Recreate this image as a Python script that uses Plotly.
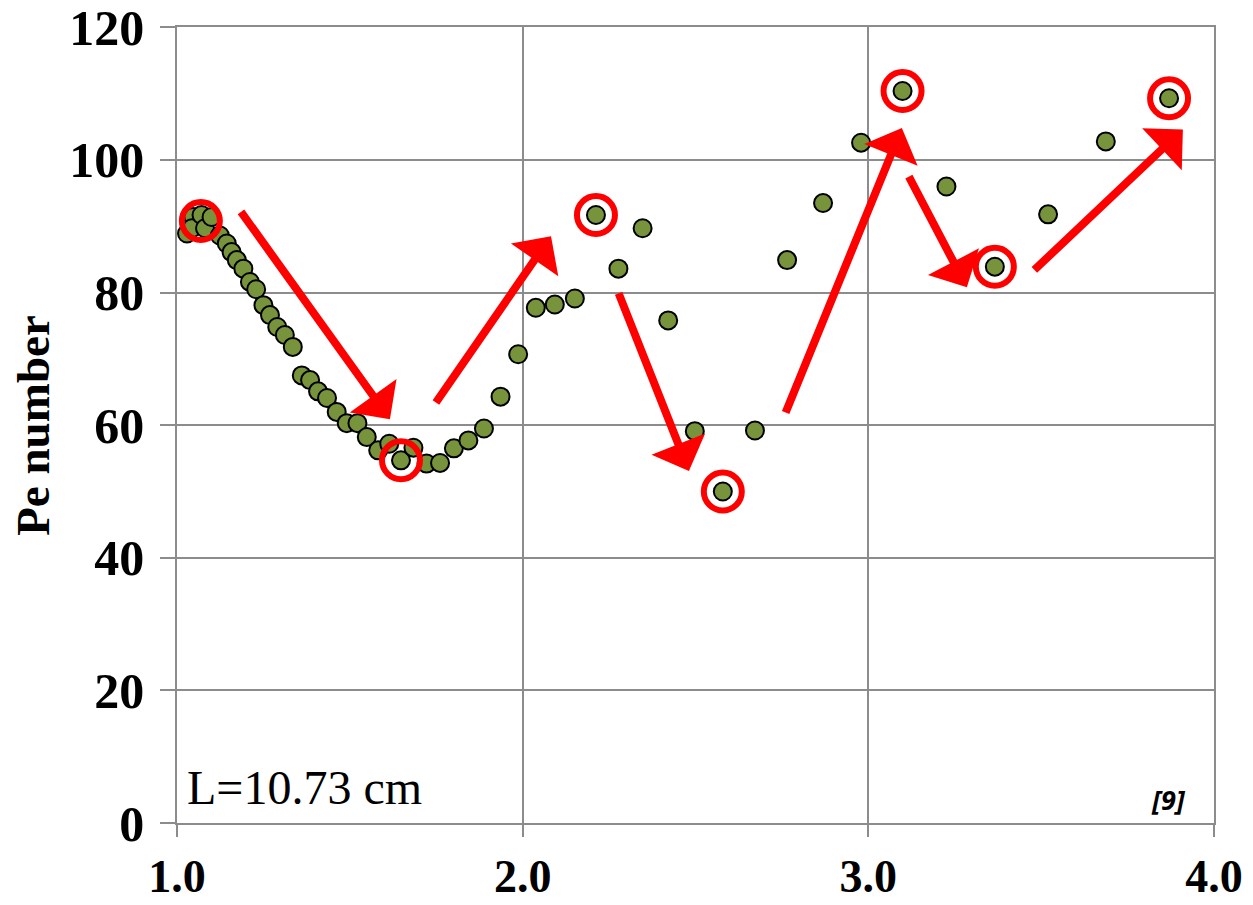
import plotly.graph_objects as go

# Measured Peclet number against the dimensionless abscissa
x_vals = [1.029, 1.047, 1.043, 1.071, 1.081, 1.100, 1.124, 1.144, 1.158, 1.173,
          1.192, 1.211, 1.229, 1.250, 1.269, 1.290, 1.312, 1.335, 1.361, 1.385,
          1.408, 1.434, 1.462, 1.491, 1.522, 1.549, 1.582, 1.614, 1.648, 1.684,
          1.722, 1.761, 1.801, 1.843, 1.888, 1.936, 1.987, 2.038, 2.093, 2.151,
          2.212, 2.277, 2.347, 2.421, 2.498, 2.579, 2.672, 2.765, 2.869, 2.979,
          3.099, 3.226, 3.366, 3.520, 3.687, 3.870]
pe_vals = [88.9, 91.4, 89.7, 91.7, 89.7, 91.4, 88.6, 87.4, 86.1, 84.9,
           83.6, 81.6, 80.5, 78.1, 76.6, 74.8, 73.6, 71.8, 67.5, 66.8,
           65.1, 64.1, 62.0, 60.3, 60.3, 58.2, 56.2, 57.2, 54.7, 56.6,
           54.2, 54.3, 56.5, 57.7, 59.5, 64.3, 70.7, 77.7, 78.2, 79.1,
           91.7, 83.6, 89.7, 75.8, 59.1, 50.0, 59.2, 84.9, 93.5, 102.6,
           110.4, 96.0, 83.9, 91.8, 102.8, 109.3]

# Local extrema highlighted with rings
peak_x = [1.069, 1.648, 2.212, 2.579, 3.099, 3.366, 3.870]
peak_y = [90.8, 54.7, 91.7, 50.0, 110.4, 83.9, 109.3]

# Trend arrows: (tail x, tail y, head x, head y)
arrow_tail_x = [1.182, 1.746, 2.276, 2.759, 3.115, 3.476]
arrow_tail_y = [92.4, 63.2, 80.1, 61.7, 97.7, 83.2]
arrow_head_x = [1.616, 2.082, 2.481, 3.097, 3.285, 3.910]
arrow_head_y = [60.9, 88.5, 53.1, 104.8, 80.8, 104.6]

x_ticks = [1.0, 2.0, 3.0, 4.0]
x_tick_text = ["1.0", "2.0", "3.0", "4.0"]
y_ticks = [0, 20, 40, 60, 80, 100, 120]

GRID = "#8c8c8c"
RED = "#ff0000"
SERIF = "Liberation Serif, Times New Roman, serif"

fig = go.Figure()

fig.add_trace(go.Scatter(
    x=x_vals, y=pe_vals, mode="markers",
    marker=dict(size=18, color="#77933c", line=dict(color="#000000", width=2)),
    showlegend=False, hoverinfo="x+y",
))

fig.add_trace(go.Scatter(
    x=peak_x, y=peak_y, mode="markers",
    marker=dict(size=38, color="rgba(0,0,0,0)", line=dict(color=RED, width=6)),
    showlegend=False, hoverinfo="skip",
))

annotations = []
for tx, ty, hx, hy in zip(arrow_tail_x, arrow_tail_y, arrow_head_x, arrow_head_y):
    annotations.append(dict(
        x=hx, y=hy, ax=tx, ay=ty, xref="x", yref="y", axref="x", ayref="y",
        text="", showarrow=True, arrowhead=1, arrowsize=1.2, arrowwidth=8,
        arrowcolor=RED,
    ))

annotations.append(dict(
    x=0.008, y=0.045, xref="x domain", yref="y domain", text="L=10.73 cm",
    xanchor="left", yanchor="middle", showarrow=False,
    font=dict(family=SERIF, size=48, color="#000000"),
))

annotations.append(dict(
    x=0.956, y=0.029, xref="x domain", yref="y domain", text="<b><i>[9]</i></b>",
    showarrow=False, xanchor="center", yanchor="middle",
    font=dict(family="Open Sans, Liberation Sans, sans-serif", size=27, color="#000000"),
))

annotations.append(dict(
    x=-0.139, y=0.5, xref="paper", yref="paper", text="<b>Pe number</b>",
    showarrow=False, textangle=-90, xanchor="center", yanchor="middle",
    font=dict(family=SERIF, size=47, color="#000000"),
))

fig.update_layout(
    width=1253, height=905,
    margin=dict(l=177, r=39, t=27, b=82),
    paper_bgcolor="#ffffff", plot_bgcolor="#ffffff",
    annotations=annotations,
    xaxis=dict(
        range=[1.0, 4.0], tickvals=x_ticks, ticktext=x_tick_text,
        showgrid=True, gridcolor=GRID, gridwidth=1.5,
        showline=True, linecolor=GRID, linewidth=1.5, mirror=True,
        ticks="outside", ticklen=12, tickcolor=GRID, tickwidth=1.5,
        ticklabelstandoff=0, ticklabeloverflow="allow",
        zeroline=False, automargin=False,
        tickfont=dict(family=SERIF, size=46, color="#000000", weight="bold"),
    ),
    yaxis=dict(
        range=[0, 120.05], tickvals=y_ticks,
        showgrid=True, gridcolor=GRID, gridwidth=1.5,
        showline=True, linecolor=GRID, linewidth=1.5, mirror=True,
        ticks="outside", ticklen=15, tickcolor=GRID, tickwidth=1.5,
        ticklabelstandoff=6, ticklabeloverflow="allow",
        zeroline=False, automargin=False,
        tickfont=dict(family=SERIF, size=50, color="#000000", weight="bold"),
    ),
)

fig.write_html("out.html")
